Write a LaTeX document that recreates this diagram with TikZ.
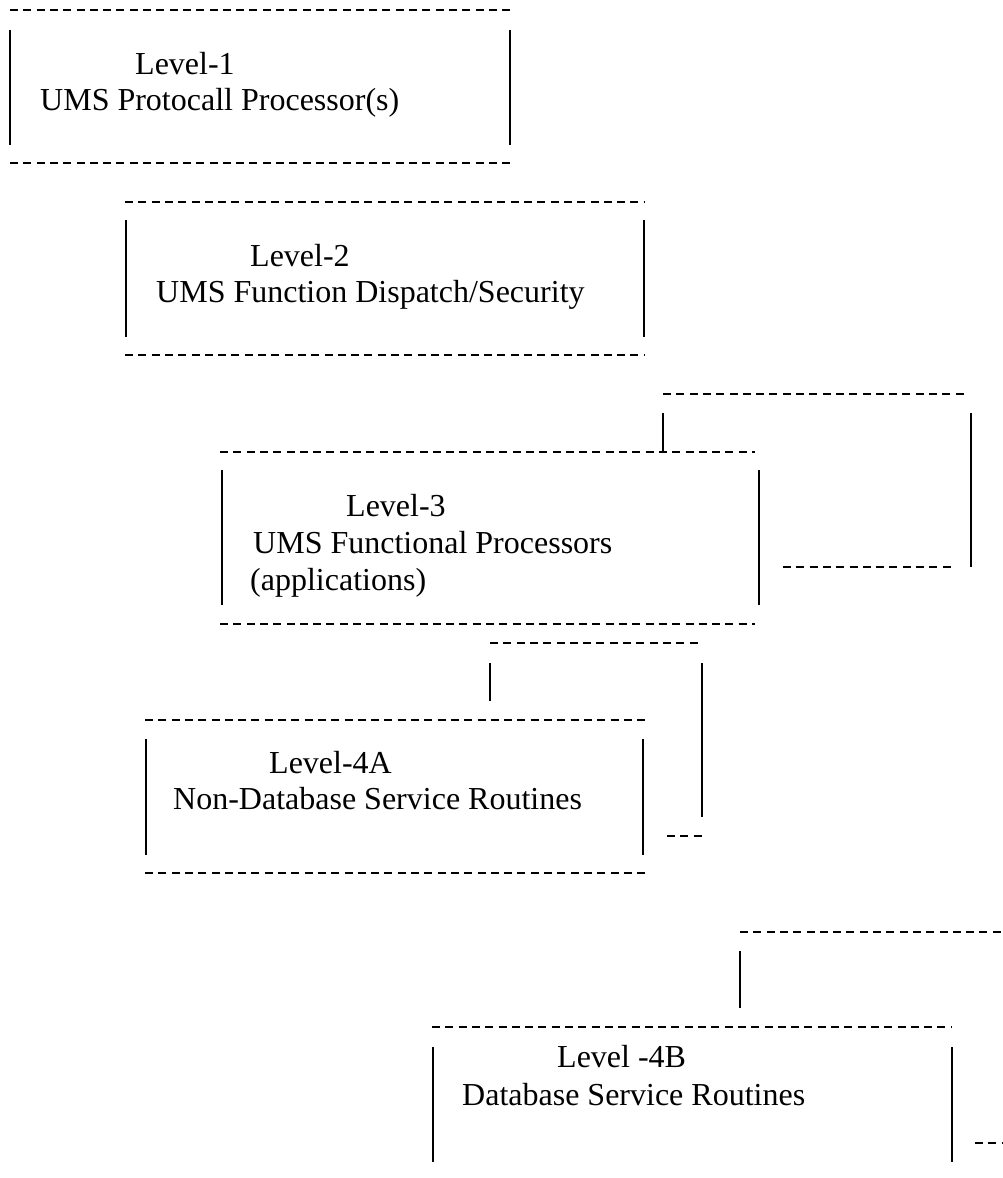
\documentclass[tikz,border=0pt]{standalone}
\usepackage{fontspec}
\setmainfont{Liberation Serif}
\begin{document}
\begin{tikzpicture}[x=1pt,y=-1pt,
  hdash/.style={line width=2pt, dash pattern=on 8pt off 5.3pt},
  vbar/.style={line width=1.8pt},
  lbl/.style={anchor=base west, inner sep=0pt, font=\fontsize{32}{38}\selectfont}]
\useasboundingbox (0,0) rectangle (1002,1178);
% Box 1
\draw[hdash] (10,10) -- (510,10);
\draw[vbar] (10,30) -- (10,145);
\draw[vbar] (510,30) -- (510,145);
\draw[hdash] (10,163) -- (510,163);
\node[lbl] (l1a) at (135,74) {Level-1};
\node[lbl] (l1b) at (40,110) {UMS Protocall Processor(s)};
% Box 2
\draw[hdash] (125,202) -- (645,202);
\draw[vbar] (126,220) -- (126,337);
\draw[vbar] (644,220) -- (644,337);
\draw[hdash] (125,355) -- (645,355);
\node[lbl] (l2a) at (250,266) {Level-2};
\node[lbl] (l2b) at (156,302) {UMS Function Dispatch/Security};
% Connector for level 3
\draw[hdash] (663,394) -- (967,394);
\draw[vbar] (663,413) -- (663,452);
\draw[vbar] (971,413) -- (971,567);
\draw[hdash] (783,567) -- (953,567);
% Box 3
\draw[hdash] (220,452) -- (755,452);
\draw[vbar] (222,470) -- (222,605);
\draw[vbar] (759,470) -- (759,605);
\draw[hdash] (220,624) -- (755,624);
\node[lbl] (l3a) at (346,516) {Level-3};
\node[lbl] (l3b) at (253,553) {UMS Functional Processors};
\node[lbl] (l3c) at (250,590) {(applications)};
% Connector for level 4A
\draw[hdash] (490,643) -- (700,643);
\draw[vbar] (490,663) -- (490,701);
\draw[vbar] (702,663) -- (702,817);
\draw[hdash] (667,836) -- (703,836);
% Box 4A
\draw[hdash] (145,720) -- (645,720);
\draw[vbar] (146,739) -- (146,855);
\draw[vbar] (643,739) -- (643,855);
\draw[hdash] (145,873) -- (645,873);
\node[lbl] (l4aa) at (269,773) {Level-4A};
\node[lbl] (l4ab) at (173,809) {Non-Database Service Routines};
% Connector for level 4B
\draw[hdash] (740,932) -- (1002,932);
\draw[vbar] (740,951) -- (740,1008);
% Box 4B
\draw[hdash] (432,1027) -- (952,1027);
\draw[vbar] (433,1047) -- (433,1162);
\draw[vbar] (952,1047) -- (952,1162);
\draw[hdash] (975,1143) -- (1002,1143);
\node[lbl] (l4ba) at (557,1067) {Level -4B};
\node[lbl] (l4bb) at (462,1105) {Database Service Routines};
\end{tikzpicture}
\end{document}
